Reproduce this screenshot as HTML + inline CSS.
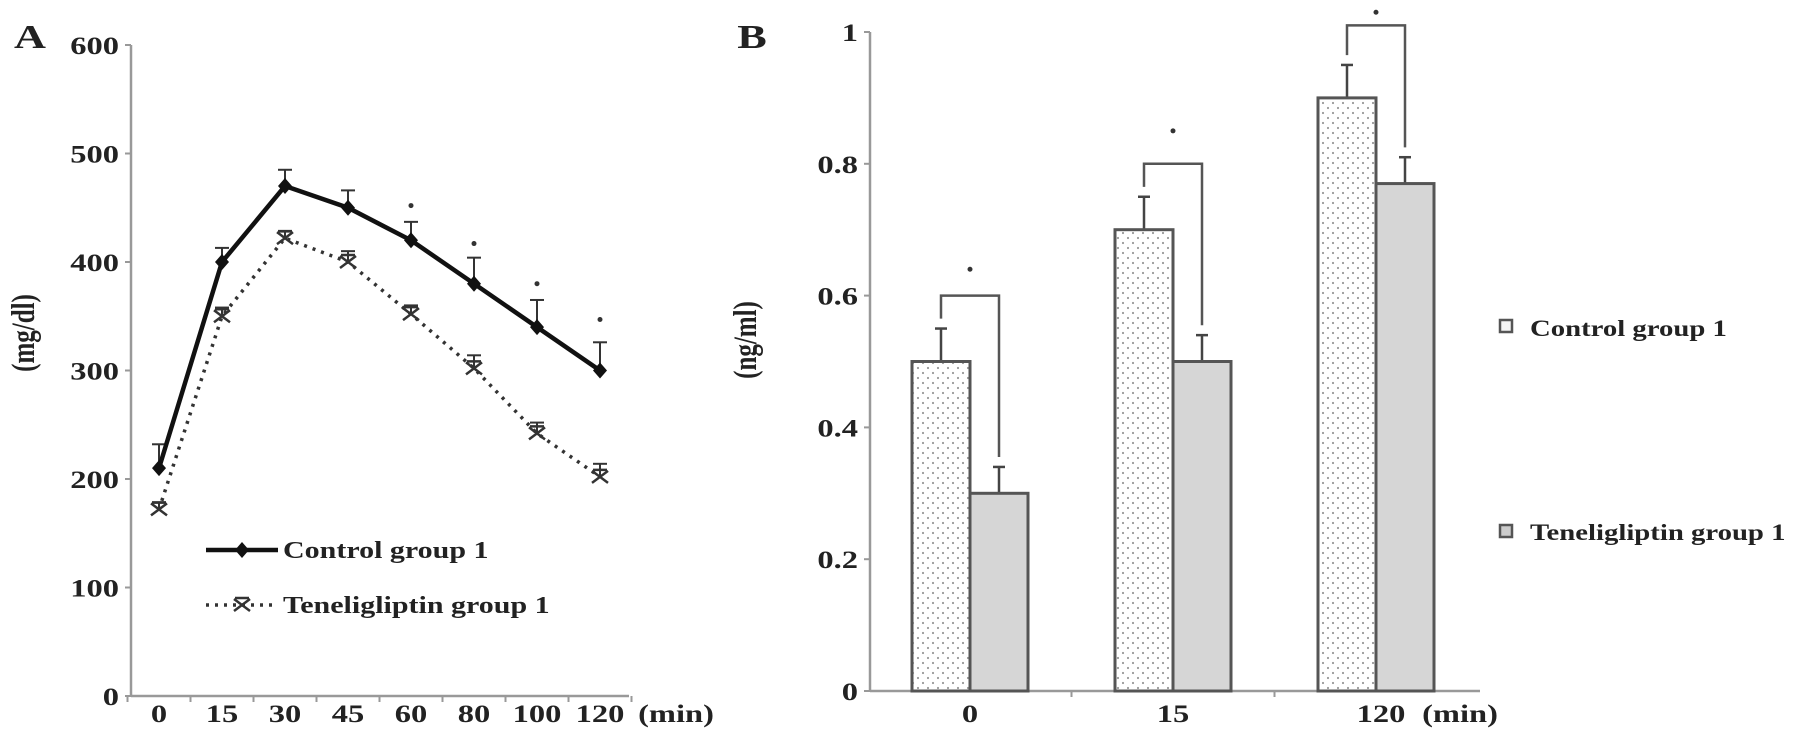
<!DOCTYPE html>
<html><head><meta charset="utf-8"><style>
html,body{margin:0;padding:0;background:#fff;}
svg{display:block;}
text{font-family:"Liberation Serif",serif;font-weight:bold;fill:#222;}
</style></head><body>
<svg id="c" width="1795" height="745" viewBox="0 0 1795 745">
<defs>
<pattern id="dots" width="10" height="10" patternUnits="userSpaceOnUse"><rect width="10" height="10" fill="#fff"/><circle cx="3" cy="3" r="1.1" fill="#999"/><circle cx="8" cy="8" r="1.1" fill="#999"/></pattern>
</defs>
</svg>
<script>
// Panel A data
const aCats = ['0','15','30','45','60','80','100','120'];
const aControl = [210,400,470,450,420,380,340,300];
const aControlErr = [22,13,15,16,17,24,25,26];
const aTene = [172,350,422,400,352,302,242,202];
const aTeneErr = [6,8,6,10,8,12,10,12];
const aStars = [0,0,0,0,452,417,380,347];
const aTicks = [0,100,200,300,400,500,600];
// Panel B data
const bCats = ['0','15','120'];
const bControl = [0.5,0.7,0.9];
const bControlErr = [0.05,0.05,0.05];
const bTene = [0.3,0.5,0.77];
const bTeneErr = [0.04,0.04,0.04];
const bBracket = [0.6,0.8,1.01];
const bStar = [0.64,0.85,1.03];
const bTicks = ['0','0.2','0.4','0.6','0.8','1'];

const svg=document.getElementById('c');
const NS='http://www.w3.org/2000/svg';
function el(t,a,p){const e=document.createElementNS(NS,t);for(const k in a)e.setAttribute(k,a[k]);(p||svg).appendChild(e);return e;}
function txt(s,x,y,size,anchor,sx){const e=el('text',{x:0,y:0,'font-size':size,'text-anchor':anchor||'middle',transform:`translate(${x},${y}) scale(${sx||1.3},1)`});e.textContent=s;return e;}

// ---------- Panel A ----------
const ax0=131, ax1=629, ay0=696, ay600=45;
const ay=v=>ay0-(v/600)*(ay0-ay600);
const aStep=63, ax=i=>159+i*aStep;
let t=txt('A',30,48,34,'middle',1.3);


let l=el('line',{x1:ax0,y1:ay600,x2:ax0,y2:ay0,stroke:'#999','stroke-width':2.5});


l=el('line',{x1:ax0,y1:ay0,x2:ax1,y2:ay0,stroke:'#999','stroke-width':2.5});


aTicks.forEach(v=>{
  el('line',{x1:ax0-6,y1:ay(v),x2:ax0,y2:ay(v),stroke:'#999','stroke-width':2});
  const tt=txt(String(v),ax0-12,ay(v)+9,25,'end',1.3);
  
  
});
aCats.forEach((c,i)=>{
  el('line',{x1:ax(i)-aStep/2,y1:ay0,x2:ax(i)-aStep/2,y2:ay0+6,stroke:'#999','stroke-width':2});
  const tt=txt(c,ax(i),722,25,'middle',1.3);
  
  
});
el('line',{x1:ax(7)+aStep/2,y1:ay0,x2:ax(7)+aStep/2,y2:ay0+6,stroke:'#999','stroke-width':2});
t=txt('(min)',676,722,25,'middle',1.3);


t=el('text',{x:0,y:0,'font-size':25,'text-anchor':'middle',transform:'translate(34,333) rotate(-90) scale(1,1.3)'});
t.textContent='(mg/dl)';


aControl.forEach((v,i)=>{
  el('line',{x1:ax(i),y1:ay(v),x2:ax(i),y2:ay(v+aControlErr[i]),stroke:'#333','stroke-width':2});
  el('line',{x1:ax(i)-7,y1:ay(v+aControlErr[i]),x2:ax(i)+7,y2:ay(v+aControlErr[i]),stroke:'#333','stroke-width':2});
});
aTene.forEach((v,i)=>{
  el('line',{x1:ax(i),y1:ay(v),x2:ax(i),y2:ay(v+aTeneErr[i]),stroke:'#333','stroke-width':2});
  el('line',{x1:ax(i)-7,y1:ay(v+aTeneErr[i]),x2:ax(i)+7,y2:ay(v+aTeneErr[i]),stroke:'#333','stroke-width':2});
});
let p=el('polyline',{points:aTene.map((v,i)=>ax(i)+','+ay(v)).join(' '),fill:'none',stroke:'#333','stroke-width':3.5,'stroke-dasharray':'3,6'});


p=el('polyline',{points:aControl.map((v,i)=>ax(i)+','+ay(v)).join(' '),fill:'none',stroke:'#111','stroke-width':4.5});


function diamond(x,y){return el('path',{d:`M${x},${y-8} L${x+7},${y} L${x},${y+8} L${x-7},${y} Z`,fill:'#111'});}
function cross(x,y){return el('path',{d:`M${x-8},${y-6} L${x+8},${y+6} M${x-8},${y+6} L${x+8},${y-6} M${x-7},${y-7} L${x+7},${y-7}`,stroke:'#333','stroke-width':2.5,fill:'none'});}
aControl.forEach((v,i)=>{const m=diamond(ax(i),ay(v));
  
  });
aTene.forEach((v,i)=>{const m=cross(ax(i),ay(v));
  
  });
aStars.forEach((v,i)=>{if(!v)return;const s=el('circle',{cx:ax(i),cy:ay(v),r:2.5,fill:'#333'});
  
  });
el('line',{x1:206,y1:550,x2:278,y2:550,stroke:'#111','stroke-width':4.5});
diamond(242,550);
t=txt('Control group 1',283,558,24,'start',1.25);


el('line',{x1:206,y1:605,x2:278,y2:605,stroke:'#333','stroke-width':3.5,'stroke-dasharray':'3,6'});
cross(242,605);
t=txt('Teneligliptin group 1',283,613,24,'start',1.25);



// ---------- Panel B ----------
const bx0=870, bx1=1480, by0=691, by1=32;
const by=v=>by0-v*(by0-by1);
const bStep=203, bc=i=>970+i*bStep, bw=58;
t=txt('B',752,48,34,'middle',1.3);


l=el('line',{x1:bx0,y1:by1,x2:bx0,y2:by0,stroke:'#999','stroke-width':2.5});


l=el('line',{x1:bx0,y1:by0,x2:bx1,y2:by0,stroke:'#999','stroke-width':2.5});


bTicks.forEach(s=>{const v=parseFloat(s);
  el('line',{x1:bx0-6,y1:by(v),x2:bx0,y2:by(v),stroke:'#999','stroke-width':2});
  const tt=txt(s,bx0-12,by(v)+9,25,'end',1.3);
  
  
});
bCats.forEach((c,i)=>{
  if(i>0)el('line',{x1:bc(i)-bStep/2,y1:by0,x2:bc(i)-bStep/2,y2:by0+6,stroke:'#999','stroke-width':2});
  const tt=txt(c,bc(i)+(i==2?5:0),722,25,'middle',1.3);
  
  
});
t=txt('(min)',1460,722,25,'middle',1.3);


t=el('text',{x:0,y:0,'font-size':25,'text-anchor':'middle',transform:'translate(756,340) rotate(-90) scale(1,1.3)'});
t.textContent='(ng/ml)';


bCats.forEach((c,i)=>{
  const x=bc(i);
  const cx=x-bw/2, tx=x+bw/2;
  el('line',{x1:cx,y1:by(bControl[i]),x2:cx,y2:by(bControl[i]+bControlErr[i]),stroke:'#444','stroke-width':2.5});
  el('line',{x1:cx-6,y1:by(bControl[i]+bControlErr[i]),x2:cx+6,y2:by(bControl[i]+bControlErr[i]),stroke:'#444','stroke-width':2.5});
  el('line',{x1:tx,y1:by(bTene[i]),x2:tx,y2:by(bTene[i]+bTeneErr[i]),stroke:'#444','stroke-width':2.5});
  el('line',{x1:tx-6,y1:by(bTene[i]+bTeneErr[i]),x2:tx+6,y2:by(bTene[i]+bTeneErr[i]),stroke:'#444','stroke-width':2.5});
  let r=el('rect',{x:x-bw,y:by(bControl[i]),width:bw,height:by0-by(bControl[i]),fill:'url(#dots)',stroke:'#555','stroke-width':3});
  
  
  r=el('rect',{x:x,y:by(bTene[i]),width:bw,height:by0-by(bTene[i]),fill:'#d6d6d6',stroke:'#555','stroke-width':3});
  
  
  const bk=el('path',{d:`M${cx},${by(bControl[i]+bControlErr[i]+0.015)} L${cx},${by(bBracket[i])} L${tx},${by(bBracket[i])} L${tx},${by(bTene[i]+bTeneErr[i]+0.015)}`,fill:'none',stroke:'#555','stroke-width':2.5});
  
  
  const st=el('circle',{cx:x,cy:by(bStar[i]),r:2.5,fill:'#333'});
  
  
});
let sq=el('rect',{x:1500,y:320,width:12,height:12,fill:'#f4f4f4',stroke:'#555','stroke-width':2.5});


t=txt('Control group 1',1530,336,23,'start',1.25);


sq=el('rect',{x:1500,y:525,width:12,height:12,fill:'#ccc',stroke:'#555','stroke-width':2.5});


t=txt('Teneligliptin group 1',1530,540,23,'start',1.25);


</script>
</body></html>
